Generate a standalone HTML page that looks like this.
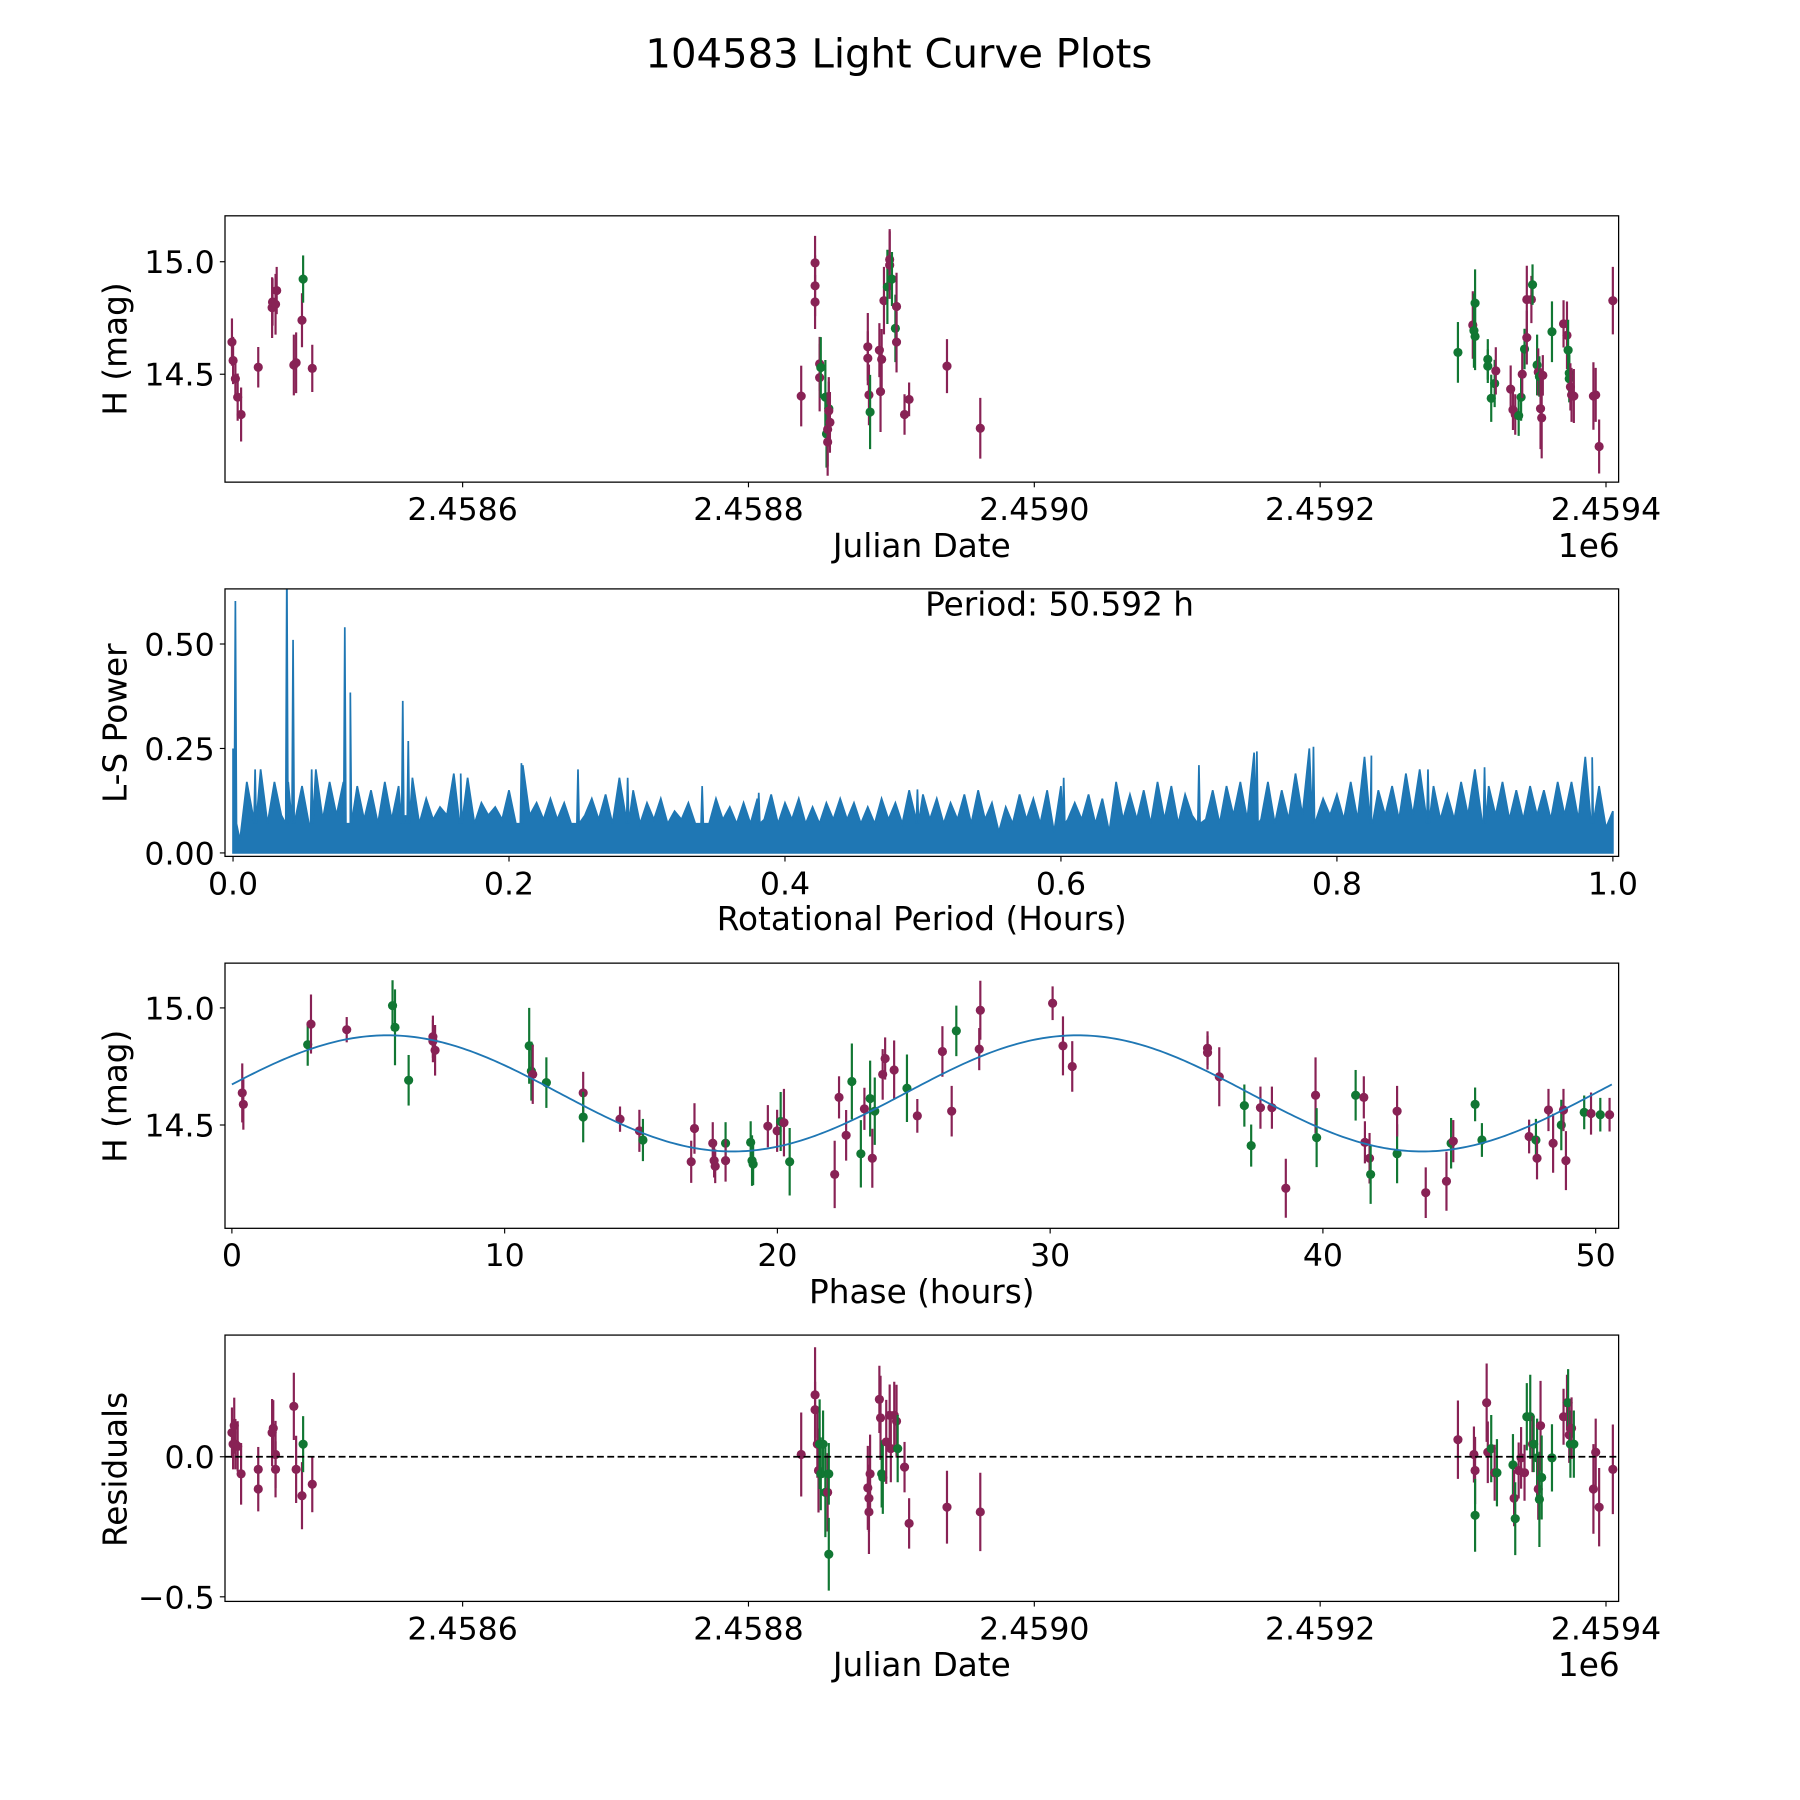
<!DOCTYPE html>
<html><head><meta charset="utf-8"><style>
html,body{margin:0;padding:0;background:#fff;}
svg{display:block;font-family:"DejaVu Sans","Liberation Sans",sans-serif;}
</style></head><body>
<svg id="fig" width="1800" height="1800" viewBox="0 0 1568 1568" xmlns="http://www.w3.org/2000/svg">
<rect width="1568" height="1568" fill="#fff"/>
<text x="783" y="59" font-size="35" text-anchor="middle">104583 Light Curve Plots</text>
</svg>
<script>
// ---------- data ----------
const jdBase = 2458000;
const p1Jd = [438.6,439.4,441.0,442.6,445.0,457.0,466.7,467.0,469.1,469.9,481.9,483.5,487.6,488.4,494.8,
836.9,846.6,846.6,846.6,849.8,849.8,850.6,853.8,854.6,855.4,855.4,856.2,856.2,857.0,883.5,883.5,884.3,885.1,891.6,892.4,893.2,894.8,897.2,898.8,898.8,900.4,902.8,903.6,903.6,909.2,912.4,938.9,962.2,
1296.4,1306.8,1307.6,1308.4,1308.4,1317.3,1317.3,1319.7,1322.1,1322.9,1333.3,1334.9,1336.5,1338.9,1340.6,1341.4,1343.0,1344.6,1344.6,1347.8,1348.6,1351.8,1352.6,1353.4,1354.2,1355.0,1355.8,1362.2,1370.3,1372.7,1373.5,1374.3,1374.3,1375.1,1375.9,1377.5,1391.2,1392.8,1395.2,1404.8];
const p1Mag = [14.643,14.561,14.480,14.398,14.321,14.531,14.796,14.821,14.811,14.872,14.541,14.551,14.740,14.923,14.526,
14.403,14.995,14.893,14.821,14.546,14.485,14.530,14.398,14.235,14.255,14.199,14.347,14.337,14.286,14.622,14.571,14.408,14.332,14.607,14.423,14.566,14.827,14.888,15.010,14.985,14.923,14.704,14.801,14.643,14.321,14.388,14.536,14.260,
14.597,14.719,14.694,14.816,14.668,14.566,14.536,14.393,14.459,14.515,14.434,14.342,14.321,14.316,14.398,14.500,14.612,14.663,14.832,14.832,14.898,14.541,14.510,14.490,14.347,14.306,14.495,14.689,14.724,14.673,14.607,14.505,14.480,14.444,14.408,14.403,14.403,14.408,14.179,14.827];
const p1Err = [0.07,0.07,0.06,0.07,0.08,0.06,0.09,0.07,0.09,0.07,0.09,0.09,0.08,0.07,0.07,
0.09,0.08,0.09,0.08,0.08,0.10,0.09,0.11,0.10,0.11,0.10,0.08,0.10,0.09,0.10,0.08,0.09,0.11,0.08,0.12,0.09,0.10,0.11,0.09,0.10,0.08,0.10,0.10,0.09,0.06,0.05,0.08,0.09,
0.09,0.10,0.11,0.10,0.10,0.06,0.05,0.07,0.07,0.07,0.07,0.06,0.06,0.06,0.07,0.07,0.06,0.08,0.10,0.07,0.06,0.09,0.07,0.06,0.12,0.12,0.06,0.09,0.07,0.10,0.09,0.07,0.07,0.07,0.08,0.08,0.10,0.08,0.08,0.10];
const p1Col = "mmmmmmmmmmmmmgm"+"mmmmmmgggmmgmmmmmgmmmmgmmggmmmm"+"mmgmgggggggmmmmggmgmmmggmgmmmgmmgggmmmm";
const p1ErrScale = 1.5;

const p2Spikes = [0.0017,0.039,0.0435,0.081,0.085,0.123,0.127,0.016,0.057,0.165,0.209,0.250,0.286,0.340,0.381,0.496,0.602,0.700,0.742,0.783,0.825,0.866,0.907,0.985];
const p2SpikePow = [0.603,0.70,0.51,0.54,0.384,0.364,0.268,0.20,0.20,0.19,0.215,0.20,0.18,0.156,0.144,0.152,0.18,0.21,0.243,0.254,0.233,0.20,0.205,0.229];
const p2PeakPow = [0.25,0.17,0.2,0.17,0.17,0.16,0.2,0.17,0.17,0.16,0.15,0.17,0.16,0.18,0.13,0.11,0.19,0.18,0.12,0.11,0.15,0.21,0.12,0.13,0.12,0.2,0.13,0.14,0.18,0.15,0.12,0.13,0.1,0.12,0.16,0.13,0.11,0.12,0.13,0.14,0.12,0.13,0.11,0.12,0.13,0.12,0.11,0.13,0.12,0.15,0.14,0.13,0.12,0.14,0.15,0.12,0.11,0.14,0.13,0.15,0.16,0.12,0.14,0.13,0.17,0.14,0.15,0.17,0.16,0.14,0.21,0.15,0.16,0.17,0.24,0.17,0.15,0.19,0.25,0.13,0.14,0.17,0.23,0.15,0.16,0.19,0.2,0.16,0.14,0.17,0.2,0.16,0.17,0.15,0.16,0.15,0.17,0.17,0.23,0.16,0.1];
const p2TroughPow = [0.03,0.08,0.07,0.09,0.08,0.07,0.08,0.09,0.07,0.08,0.07,0.08,0.09,0.07,0.08,0.09,0.08,0.07,0.09,0.08,0.07,0.09,0.08,0.08,0.07,0.09,0.08,0.07,0.08,0.07,0.08,0.07,0.08,0.07,0.07,0.08,0.07,0.07,0.08,0.07,0.08,0.07,0.07,0.08,0.08,0.07,0.07,0.08,0.07,0.08,0.08,0.07,0.08,0.07,0.08,0.05,0.07,0.08,0.07,0.05,0.08,0.08,0.07,0.05,0.08,0.08,0.07,0.08,0.07,0.09,0.08,0.07,0.09,0.08,0.08,0.07,0.08,0.09,0.08,0.09,0.08,0.08,0.08,0.09,0.08,0.09,0.08,0.08,0.08,0.09,0.08,0.09,0.08,0.08,0.09,0.08,0.09,0.08,0.08,0.06];
const p2Step = 0.01;
const periodLabel = "Period: 50.592 h";

const p3Phase = [0.38,0.42,2.78,2.90,4.21,5.89,5.98,6.48,7.37,7.37,7.45,10.90,10.98,11.03,11.53,12.88,12.88,14.23,14.94,15.07,16.84,16.96,17.63,17.68,17.72,18.10,18.10,19.02,19.07,19.11,19.65,19.99,20.12,20.24,20.45,22.10,22.26,22.52,22.73,23.06,23.19,23.40,23.48,23.57,23.86,23.95,24.28,24.75,25.13,26.05,26.39,26.56,27.40,27.44,30.09,30.47,30.81,35.77,35.77,36.20,37.12,37.37,37.71,38.13,38.64,39.73,39.77,41.20,41.50,41.54,41.71,41.75,42.72,42.72,43.77,44.53,44.70,44.78,45.58,45.83,47.56,47.81,47.85,48.27,48.44,48.74,48.82,48.91,49.58,49.83,50.17,50.51];
const p3Mag = [14.637,14.588,14.843,14.931,14.907,15.010,14.917,14.691,14.877,14.858,14.819,14.838,14.730,14.716,14.681,14.637,14.534,14.525,14.475,14.436,14.343,14.485,14.422,14.348,14.324,14.422,14.348,14.426,14.348,14.333,14.495,14.475,14.515,14.510,14.343,14.289,14.618,14.456,14.686,14.377,14.569,14.613,14.358,14.559,14.716,14.784,14.735,14.657,14.539,14.814,14.559,14.902,14.824,14.990,15.020,14.838,14.750,14.828,14.809,14.706,14.583,14.412,14.574,14.574,14.230,14.627,14.446,14.627,14.618,14.426,14.358,14.289,14.377,14.559,14.211,14.260,14.422,14.431,14.588,14.436,14.451,14.436,14.358,14.564,14.422,14.500,14.564,14.348,14.554,14.549,14.544,14.544];
const p3Err = [0.07,0.06,0.05,0.07,0.03,0.06,0.09,0.06,0.05,0.05,0.06,0.09,0.07,0.07,0.06,0.05,0.06,0.03,0.05,0.05,0.05,0.06,0.05,0.04,0.04,0.05,0.05,0.05,0.06,0.05,0.05,0.05,0.07,0.08,0.08,0.08,0.05,0.06,0.09,0.08,0.05,0.09,0.07,0.08,0.06,0.05,0.07,0.08,0.04,0.06,0.06,0.06,0.05,0.07,0.04,0.07,0.06,0.04,0.04,0.07,0.05,0.05,0.05,0.05,0.07,0.09,0.07,0.06,0.05,0.05,0.06,0.07,0.07,0.06,0.06,0.07,0.06,0.05,0.04,0.04,0.04,0.05,0.05,0.05,0.07,0.06,0.05,0.07,0.04,0.05,0.04,0.04];
const p3Col = "mmgmmggg"+"mmm"+"ggmg"+"mg"+"mmg"+"mmmmm"+"gm"+"ggg"+"mmgmg"+"mmmggmgmgmmmg"+"mmmgm"+"mmmmm"+"mmg"+"gmmmm"+"gg"+"mmmgg"+"mm"+"mgmg"+"gm"+"gmm"+"mgmmgmg"+"mm";
const p3ErrScale = 1.8;
const fitMean = 14.635, fitAmp = 0.248, fitHalfPeriod = 25.296, fitShift = -0.62, foldPeriod = 50.592;

const p4Jd = [438.6,439.4,440.2,441.0,442.6,445.0,457.0,457.0,466.7,467.5,469.1,469.1,481.9,483.5,487.6,488.4,494.8,
836.9,846.6,846.6,848.2,849.0,849.8,850.6,852.2,853.8,855.4,856.2,856.2,883.5,884.3,884.3,885.1,891.6,892.4,893.2,894.0,896.4,898.8,899.6,902.0,903.6,904.4,909.2,912.4,938.9,962.2,
1296.4,1307.6,1308.4,1308.4,1316.5,1317.3,1319.7,1322.1,1323.7,1334.9,1335.7,1336.5,1338.9,1340.6,1343.0,1344.6,1347.0,1348.6,1349.4,1351.8,1352.6,1353.4,1354.2,1355.0,1362.2,1370.3,1372.7,1373.5,1374.3,1375.1,1375.9,1377.5,1391.2,1392.8,1395.2,1404.8];
const p4Res = [0.086,0.045,0.111,0.045,0.037,-0.061,-0.045,-0.115,0.086,0.102,0.008,-0.045,0.18,-0.045,-0.139,0.045,-0.098,
0.008,0.221,0.168,0.045,-0.049,0.045,-0.061,0.045,-0.127,-0.127,-0.061,-0.348,-0.111,-0.197,-0.148,-0.061,0.205,0.139,-0.061,-0.074,0.053,0.148,0.029,0.148,0.127,0.029,-0.037,-0.238,-0.18,-0.197,
0.061,0.008,-0.049,-0.209,0.193,0.016,0.029,-0.057,-0.057,-0.029,-0.148,-0.221,-0.049,-0.004,-0.057,0.143,0.143,0.045,0.045,-0.004,-0.115,-0.152,0.111,-0.074,-0.004,0.143,0.193,0.193,0.078,0.045,0.102,0.045,-0.115,0.016,-0.18,-0.045];
const p4Err = [0.09,0.09,0.1,0.09,0.09,0.11,0.08,0.08,0.12,0.1,0.12,0.1,0.12,0.12,0.12,0.1,0.1,
0.15,0.17,0.1,0.12,0.15,0.16,0.13,0.12,0.16,0.14,0.11,0.13,0.15,0.15,0.12,0.14,0.12,0.15,0.12,0.13,0.15,0.11,0.12,0.12,0.13,0.12,0.09,0.09,0.13,0.14,
0.14,0.1,0.12,0.13,0.14,0.11,0.12,0.1,0.12,0.11,0.1,0.13,0.1,0.11,0.1,0.12,0.15,0.1,0.1,0.14,0.11,0.17,0.16,0.15,0.12,0.1,0.1,0.12,0.1,0.12,0.11,0.12,0.16,0.12,0.14,0.16];
const p4Col = "mmmmmmmmmmmmmmmgm"+"mmmmmggggmggmmmmmmggmmmmmgmmmm"+"mmmgmmgmggmgmmmggmggmgmggmmgmgmgmmmm";

const jdTicks = [2458600,2458800,2459000,2459200,2459400];
const jdTickLabels = ["2.4586","2.4588","2.4590","2.4592","2.4594"];
const magTicks = [14.5,15.0];
const magTickLabels = ["14.5","15.0"];
const powTicks = [0,0.25,0.5];
const powTickLabels = ["0.00","0.25","0.50"];
const perTicks = [0,0.2,0.4,0.6,0.8,1.0];
const perTickLabels = ["0.0","0.2","0.4","0.6","0.8","1.0"];
const phaseTicks = [0,10,20,30,40,50];
const phaseTickLabels = ["0","10","20","30","40","50"];
const resTicks = [0,-0.5];
const resTickLabels = ["0.0","\u22120.5"];

// ---------- scales ----------
const NS = "http://www.w3.org/2000/svg";
const svg = document.getElementById("fig");
const MAG = "#882255", GRN = "#117733", BLUE = "#1f77b4";
function el(tag, attrs, parent){const e=document.createElementNS(NS,tag);for(const k in attrs)e.setAttribute(k,attrs[k]);(parent||svg).appendChild(e);return e;}
const xJd = jd => 403 + (jd - 2458600) * 249 / 200;
const y1 = m => 228 - (m - 15) * 196;
const xPer = p => 203 + p * 1202;
const y2 = v => 743 - v * 364;
const xPh = p => 202 + p * 23.76;
const y3 = m => 878 - (m - 15) * 204;
const y4 = r => 1269 - r * 244;

const panels = [
  {name:"light-curve-panel", x0:196,x1:1410,y0:188,y1:420},
  {name:"periodogram-panel", x0:196,x1:1410,y0:513,y1:746},
  {name:"phased-curve-panel", x0:196,x1:1410,y0:839,y1:1070},
  {name:"residuals-panel", x0:196,x1:1410,y0:1163,y1:1395}
];
const defs = el("defs",{});
panels.forEach((p,i)=>{
  const cp = el("clipPath",{id:"clip"+i},defs);
  el("rect",{x:p.x0,y:p.y0,width:p.x1-p.x0,height:p.y1-p.y0},cp);
});
const groups = panels.map((p,i)=>{
  const g = el("g",{"clip-path":"url(#clip"+i+")"});
  
  
  return g;
});

function errorbars(g, xs, ys, errs, scale, cols, xf, yf, prefix){
  for(let i=0;i<xs.length;i++){
    const c = cols[i]==="g"?GRN:MAG;
    const cx = xf(xs[i]);
    const e = errs[i]*scale;
    const ln = el("line",{x1:cx,x2:cx,y1:yf(ys[i]-e),y2:yf(ys[i]+e),stroke:c,"stroke-width":1.9},g);
    
    
    const pt = el("circle",{cx:cx,cy:yf(ys[i]),r:4,fill:c},g);
    
    
  }
}
errorbars(groups[0], p1Jd.map(v=>v+jdBase), p1Mag, p1Err, p1ErrScale, p1Col, xJd, y1, "observation");
errorbars(groups[2], p3Phase, p3Mag, p3Err, p3ErrScale, p3Col, xPh, y3, "phased-observation");
errorbars(groups[3], p4Jd.map(v=>v+jdBase), p4Res, p4Err, 1, p4Col, xJd, y4, "residual");

// periodogram
(function(){
  const verts = [];
  for(let i=0;i<p2PeakPow.length;i++){
    verts.push([i*p2Step, p2PeakPow[i]]);
    if(i<p2TroughPow.length) verts.push([i*p2Step+p2Step/2, p2TroughPow[i]]);
  }
  for(let k=0;k<p2Spikes.length;k++){
    verts.push([p2Spikes[k]-0.0008, 0.07]);
    verts.push([p2Spikes[k], p2SpikePow[k]]);
    verts.push([p2Spikes[k]+0.0008, 0.07]);
  }
  verts.sort((a,b)=>a[0]-b[0]);
  let d = "M"+xPer(verts[0][0])+","+y2(0);
  verts.forEach(v=>{ d += " L"+xPer(v[0]).toFixed(2)+","+y2(v[1]).toFixed(2); });
  d += " L"+xPer(verts[verts.length-1][0])+","+y2(0)+" Z";
  const area = el("path",{d:d,fill:BLUE,stroke:BLUE,"stroke-width":1.5,"stroke-linejoin":"miter"},groups[1]);
  
  
})();

// fit curve
(function(){
  let d="";
  for(let k=0;k<=400;k++){
    const ph = foldPeriod*k/400;
    const m = fitMean + fitAmp*Math.sin(2*Math.PI*(ph-fitShift)/fitHalfPeriod);
    d += (k?" L":"M")+xPh(ph).toFixed(2)+","+y3(m).toFixed(2);
  }
  const c = el("path",{d:d,fill:"none",stroke:BLUE,"stroke-width":1.6},groups[2]);
  
  
})();

// zero line
const zl = el("line",{x1:196,x2:1410,y1:y4(0),y2:y4(0),stroke:"#000","stroke-width":1.5,"stroke-dasharray":"6,3"});



// frames and axes
panels.forEach(p=>{
  const r = el("rect",{x:p.x0,y:p.y0,width:p.x1-p.x0,height:p.y1-p.y0,fill:"none",stroke:"#000","stroke-width":1.1});
  
  
});
function xticks(p, vals, labels, xf, namePrefix){
  vals.forEach((v,i)=>{
    const x = xf(v);
    el("line",{x1:x,x2:x,y1:p.y1,y2:p.y1+4.5,stroke:"#000","stroke-width":1});
    const t = el("text",{x:x,y:p.y1+33,"font-size":27.5,"text-anchor":"middle"});
    t.textContent = labels[i];
    
    
  });
}
function yticks(p, vals, labels, yf, namePrefix){
  vals.forEach((v,i)=>{
    const y = yf(v);
    el("line",{x1:p.x0-4.5,x2:p.x0,y1:y,y2:y,stroke:"#000","stroke-width":1});
    const t = el("text",{x:p.x0-9,y:y+10,"font-size":27.5,"text-anchor":"end"});
    t.textContent = labels[i];
    
    
  });
}
xticks(panels[0], jdTicks, jdTickLabels, xJd, "x-axis-jd");
yticks(panels[0], magTicks, magTickLabels, y1, "y-axis-mag");
xticks(panels[1], perTicks, perTickLabels, xPer, "x-axis-period");
yticks(panels[1], powTicks, powTickLabels, y2, "y-axis-power");
xticks(panels[2], phaseTicks, phaseTickLabels, xPh, "x-axis-phase");
yticks(panels[2], magTicks, magTickLabels, y3, "y-axis-phased-mag");
xticks(panels[3], jdTicks, jdTickLabels, xJd, "x-axis-residual-jd");
yticks(panels[3], resTicks, resTickLabels, y4, "y-axis-residual");

function label(txt, x, y, rot, name){
  const t = el("text",{x:x,y:y,"font-size":28.5,"text-anchor":"middle"});
  if(rot) t.setAttribute("transform","rotate(-90 "+x+" "+y+")");
  t.textContent = txt;
  
  
}
label("Julian Date", 803, 485, false, "x-axis-title-jd");
label("1e6", 1384, 485, false, "x-axis-offset-jd");
label("H (mag)", 110, 304, true, "y-axis-title-mag");
label("Rotational Period (Hours)", 803, 810, false, "x-axis-title-period");
label("L-S Power", 110, 630, true, "y-axis-title-power");
label(periodLabel, 923, 536, false, "period-annotation");
label("Phase (hours)", 803, 1135, false, "x-axis-title-phase");
label("H (mag)", 110, 955, true, "y-axis-title-phased-mag");
label("Julian Date", 803, 1460, false, "x-axis-title-residual-jd");
label("1e6", 1384, 1460, false, "x-axis-offset-residual-jd");
label("Residuals", 110, 1280, true, "y-axis-title-residuals");
</script>
</body></html>
